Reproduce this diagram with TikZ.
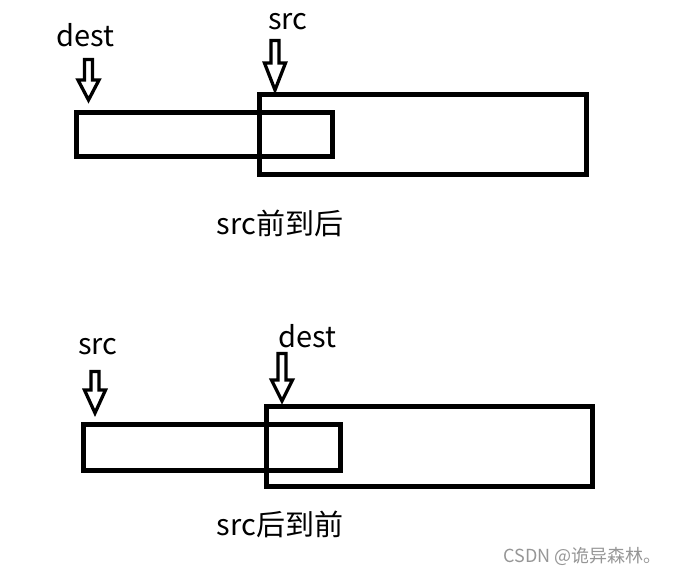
\documentclass[tikz,border=0pt]{standalone}
\usepackage{fontspec}
\setmainfont{Noto Sans CJK SC}
\definecolor{markgray}{RGB}{150,150,150}
\tikzset{
  buf/.style={draw, line width=5pt, anchor=north west, inner sep=0pt, outer sep=0pt},
  ptrline/.style={draw, fill=white, line width=3.3pt, line join=miter},
  lbl/.style={anchor=base, inner sep=0pt, font=\fontsize{29}{30}\selectfont},
}
% hollow down arrow: tip, length, head length
\newcommand{\ptr}[3]{%
  \draw[ptrline, shift={(#1)}] (0,0) -- (-10.5,-#3) -- (-4,-#3) -- (-4,-#2)
    -- (4,-#2) -- (4,-#3) -- (10.5,-#3) -- cycle;}
\begin{document}
\begin{tikzpicture}[x=1pt,y=-1pt]
\useasboundingbox (0,0) rectangle (675,577);
% src front to back
\node[buf, minimum width=256pt, minimum height=44pt] (dbuf) at (76.5,112.5) {};
\node[buf, minimum width=327pt, minimum height=80.5pt] (sbuf) at (259,94.5) {};
\node[lbl] (dlbl) at (85,47) {dest};
\node[lbl] (slbl) at (288,30) {src};
\coordinate (dtip) at (88.5,100);
\coordinate (stip) at (275,90);
\ptr{dtip}{40.5}{20}
\ptr{stip}{49.5}{27}
\node[lbl] (cap1) at (280,235) {src前到后};
% src back to front
\node[buf, minimum width=257pt, minimum height=46pt] (sbuf2) at (83.5,424.5) {};
\node[buf, minimum width=326pt, minimum height=80pt] (dbuf2) at (266.5,406.5) {};
\node[lbl] (slbl2) at (98,355) {src};
\node[lbl] (dlbl2) at (307,348) {dest};
\coordinate (stip2) at (95,413);
\coordinate (dtip2) at (282,401);
\ptr{stip2}{41.5}{23}
\ptr{dtip2}{47.5}{21}
\node[lbl] (cap2) at (280,535) {src后到前};
\node[anchor=base east, inner sep=0pt, text=markgray,
  font=\fontsize{18}{19}\selectfont] (mark) at (662,562) {CSDN @诡异森林。};
\end{tikzpicture}
\end{document}
